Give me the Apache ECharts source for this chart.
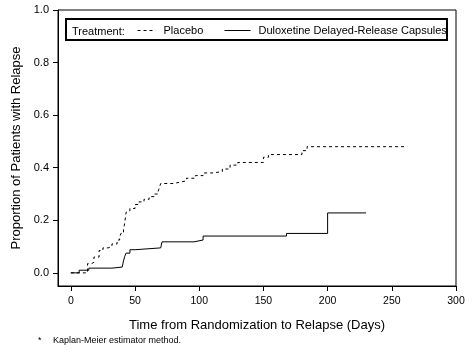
<!DOCTYPE html>
<html>
<head>
<meta charset="utf-8">
<script src="https://cdn.jsdelivr.net/npm/echarts@6/dist/echarts.min.js"></script>
<style>html,body{margin:0;padding:0;background:#fff}#c{width:472px;height:352px}</style>
</head>
<body>
<div id="c"></div>
<script>
// Kaplan-Meier step data
const placeboDays = [0, 13, 16, 18, 22, 25, 29, 32, 36, 38, 39, 41, 42, 43, 44, 46, 50, 53, 57, 61, 65, 68, 69, 70, 80, 85, 90, 97, 103, 110, 118, 124, 130, 150, 154, 180, 184, 262];
const placeboProp = [0, 0.035, 0.04, 0.06, 0.085, 0.095, 0.10, 0.11, 0.125, 0.135, 0.15, 0.165, 0.19, 0.23, 0.235, 0.245, 0.26, 0.27, 0.28, 0.29, 0.30, 0.31, 0.325, 0.34, 0.345, 0.35, 0.36, 0.37, 0.38, 0.385, 0.395, 0.41, 0.42, 0.44, 0.45, 0.465, 0.48, 0.48];
const dulDays = [0, 6.5, 14, 32, 40, 41, 42, 43, 46, 50, 70, 71, 96, 103, 168, 200, 230];
const dulProp = [0, 0.01, 0.018, 0.022, 0.028, 0.045, 0.063, 0.075, 0.088, 0.095, 0.10, 0.118, 0.125, 0.14, 0.15, 0.228, 0.228];
const xTicks = [0, 50, 100, 150, 200, 250, 300];
const yTicks = [0, 0.2, 0.4, 0.6, 0.8, 1.0];
const seriesNames = ['Placebo', 'Duloxetine Delayed-Release Capsules'];

const pair = (xs, ys) => xs.map((x, i) => [x, ys[i]]);
const font = 'Arial, "Liberation Sans", sans-serif';

const chart = echarts.init(document.getElementById('c'), null, {renderer: 'canvas'});
chart.setOption({
  animation: false,
  backgroundColor: '#fff',
  textStyle: {fontFamily: font, color: '#000'},
  grid: {left: 58, right: 16, top: 10, bottom: 66, show: true, borderColor: '#000', borderWidth: 1, backgroundColor: 'transparent'},
  xAxis: {
    type: 'value', min: -10, max: 300,
    name: 'Time from Randomization to Relapse (Days)', nameLocation: 'middle', nameGap: 33,
    nameTextStyle: {fontSize: 13, color: '#000', fontFamily: font},
    axisLine: {show: true, onZero: false, lineStyle: {color: '#000', width: 1}},
    axisTick: {show: true, length: 5, customValues: xTicks, lineStyle: {color: '#000'}},
    axisLabel: {customValues: xTicks, fontSize: 10.5, color: '#000', margin: 10, fontFamily: font},
    splitLine: {show: false}
  },
  yAxis: {
    type: 'value', min: -0.05, max: 1.0,
    name: 'Proportion of Patients with Relapse', nameLocation: 'middle', nameGap: 32,
    nameTextStyle: {fontSize: 13, color: '#000', fontFamily: font},
    axisLine: {show: true, onZero: false, lineStyle: {color: '#000', width: 1}},
    axisTick: {show: true, length: 5, customValues: yTicks, lineStyle: {color: '#000'}},
    axisLabel: {customValues: yTicks, fontSize: 11, color: '#000', margin: 9, fontFamily: font,
      formatter: v => v.toFixed(1)},
    splitLine: {show: false}
  },
  legend: [
    {left: 137, top: 25, padding: 0, itemWidth: 16, itemHeight: 10, data: [seriesNames[0]],
     itemStyle: {opacity: 0}, lineStyle: {color: '#000', width: 1, type: [3, 3]},
     textStyle: {fontSize: 11, color: '#000', fontFamily: font, padding: [0, 0, 0, 5]}},
    {left: 224, top: 25, padding: 0, itemWidth: 26, itemHeight: 10, data: [seriesNames[1]],
     itemStyle: {opacity: 0}, lineStyle: {color: '#000', width: 1, type: 'solid'},
     textStyle: {fontSize: 11, color: '#000', fontFamily: font, padding: [0, 0, 0, 3]}}
  ],
  graphic: [
    {type: 'rect', shape: {x: 66, y: 19, width: 381, height: 21}, style: {fill: 'none', stroke: '#000', lineWidth: 2}, z: 10},
    {type: 'text', x: 72, y: 31.5, style: {text: 'Treatment:', font: '11px ' + font, fill: '#000', verticalAlign: 'middle', textVerticalAlign: 'middle'}, z: 10},
    {type: 'text', x: 38, y: 341, style: {text: '*', font: '9px ' + font, fill: '#000', verticalAlign: 'middle', textVerticalAlign: 'middle'}},
    {type: 'text', x: 53, y: 341, style: {text: 'Kaplan-Meier estimator method.', font: '9px ' + font, fill: '#000', verticalAlign: 'middle', textVerticalAlign: 'middle'}}
  ],
  series: [
    {name: seriesNames[0], type: 'line', step: 'end', symbol: 'none', data: pair(placeboDays, placeboProp),
     lineStyle: {color: '#000', width: 1, type: [3, 3]}, itemStyle: {color: '#000'}},
    {name: seriesNames[1], type: 'line', step: 'end', symbol: 'none', data: pair(dulDays, dulProp),
     lineStyle: {color: '#000', width: 1, type: 'solid'}, itemStyle: {color: '#000'}}
  ]
});
</script>
</body>
</html>
